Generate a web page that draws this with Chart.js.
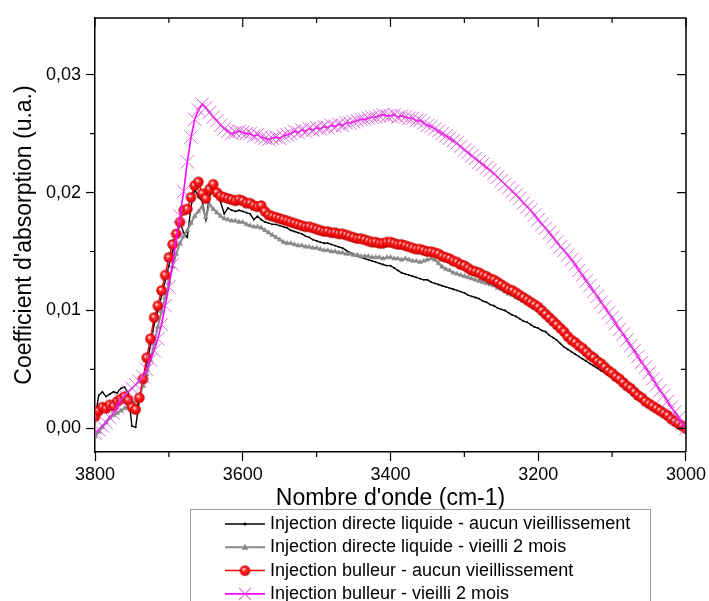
<!DOCTYPE html>
<html>
<head>
<meta charset="utf-8">
<script src="https://cdn.jsdelivr.net/npm/chart.js@4.4.1/dist/chart.umd.min.js"></script>
<style>
    html, body { margin: 0; padding: 0; background: #fff; overflow: hidden; }
    canvas { display: block; }
</style>
</head>
<body>
<canvas id="absorptionChart" width="709" height="601"></canvas>
<script>
// Nombre d'onde (cm-1), 3800 -> 3000
const wavenumbers = [
    3800, 3795, 3790, 3785, 3780, 3775, 3770, 3765, 3760, 3755,
    3750, 3745, 3740, 3735, 3730, 3725, 3720, 3715, 3710, 3705,
    3700, 3695, 3690, 3685, 3680, 3675, 3670, 3665, 3660, 3655,
    3650, 3645, 3640, 3635, 3630, 3625, 3620, 3615, 3610, 3605,
    3600, 3595, 3590, 3585, 3580, 3575, 3570, 3565, 3560, 3555,
    3550, 3545, 3540, 3535, 3530, 3525, 3520, 3515, 3510, 3505,
    3500, 3495, 3490, 3485, 3480, 3475, 3470, 3465, 3460, 3455,
    3450, 3445, 3440, 3435, 3430, 3425, 3420, 3415, 3410, 3405,
    3400, 3395, 3390, 3385, 3380, 3375, 3370, 3365, 3360, 3355,
    3350, 3345, 3340, 3335, 3330, 3325, 3320, 3315, 3310, 3305,
    3300, 3295, 3290, 3285, 3280, 3275, 3270, 3265, 3260, 3255,
    3250, 3245, 3240, 3235, 3230, 3225, 3220, 3215, 3210, 3205,
    3200, 3195, 3190, 3185, 3180, 3175, 3170, 3165, 3160, 3155,
    3150, 3145, 3140, 3135, 3130, 3125, 3120, 3115, 3110, 3105,
    3100, 3095, 3090, 3085, 3080, 3075, 3070, 3065, 3060, 3055,
    3050, 3045, 3040, 3035, 3030, 3025, 3020, 3015, 3010, 3005,
    3000
];

// Injection directe liquide - aucun vieillissement
const directFresh = [
    0.0008, 0.0028, 0.0031, 0.0027, 0.0029, 0.0031, 0.0030, 0.0034, 0.0035, 0.0030,
    0.0002, 0.0001, 0.0024, 0.0040, 0.0055, 0.0070, 0.0088, 0.0100, 0.0112, 0.0125,
    0.0138, 0.0150, 0.0160, 0.0175, 0.0166, 0.0162, 0.0188, 0.0203, 0.0196, 0.0193,
    0.0177, 0.0197, 0.0202, 0.0200, 0.0192, 0.0182, 0.0187, 0.0185, 0.0184, 0.0185,
    0.0184, 0.0183, 0.0182, 0.0177, 0.0180, 0.0177, 0.0175, 0.0174, 0.0173, 0.0173,
    0.0172, 0.0171, 0.0170, 0.0168, 0.0167, 0.0166, 0.0165, 0.0163, 0.0162, 0.0160,
    0.0159, 0.0158, 0.0157, 0.0157, 0.0156, 0.0155, 0.0154, 0.0153, 0.0151, 0.0149,
    0.0148, 0.0146, 0.0145, 0.0144, 0.0143, 0.0142, 0.0141, 0.0140, 0.0139, 0.0138,
    0.0138, 0.0136, 0.0134, 0.0132, 0.0131, 0.0130, 0.0129, 0.0128, 0.0127, 0.0126,
    0.0126, 0.0124, 0.0123, 0.0122, 0.0121, 0.0120, 0.0119, 0.0118, 0.0117, 0.0116,
    0.0115, 0.0113, 0.0112, 0.0111, 0.0110, 0.0108, 0.0107, 0.0105, 0.0104, 0.0102,
    0.0101, 0.0100, 0.0098, 0.0096, 0.0095, 0.0093, 0.0091, 0.0090, 0.0088, 0.0086,
    0.0085, 0.0083, 0.0082, 0.0079, 0.0077, 0.0075, 0.0072, 0.0069, 0.0067, 0.0065,
    0.0063, 0.0061, 0.0059, 0.0057, 0.0055, 0.0053, 0.0051, 0.0049, 0.0047, 0.0045,
    0.0043, 0.0041, 0.0039, 0.0037, 0.0035, 0.0033, 0.0031, 0.0028, 0.0026, 0.0024,
    0.0022, 0.0020, 0.0017, 0.0015, 0.0013, 0.0011, 0.0009, 0.0007, 0.0004, 0.0002,
    0.0000
];

// Injection directe liquide - vieilli 2 mois
const directAged = [
    -0.0007, -0.0003, 0.0001, 0.0005, 0.0009, 0.0011, 0.0013, 0.0015, 0.0017, 0.0019,
    0.0021, 0.0023, 0.0027, 0.0036, 0.0046, 0.0058, 0.0072, 0.0086, 0.0099, 0.0111,
    0.0124, 0.0137, 0.0148, 0.0157, 0.0163, 0.0168, 0.0174, 0.0180, 0.0184, 0.0188,
    0.0179, 0.0190, 0.0186, 0.0183, 0.0180, 0.0178, 0.0177, 0.0176, 0.0176, 0.0175,
    0.0175, 0.0173, 0.0172, 0.0171, 0.0171, 0.0170, 0.0168, 0.0166, 0.0164, 0.0162,
    0.0160, 0.0158, 0.0157, 0.0157, 0.0156, 0.0155, 0.0155, 0.0154, 0.0154, 0.0153,
    0.0153, 0.0152, 0.0151, 0.0151, 0.0150, 0.0150, 0.0149, 0.0149, 0.0148, 0.0148,
    0.0147, 0.0147, 0.0146, 0.0146, 0.0146, 0.0145, 0.0145, 0.0145, 0.0144, 0.0145,
    0.0145, 0.0144, 0.0144, 0.0143, 0.0144, 0.0143, 0.0142, 0.0142, 0.0141, 0.0142,
    0.0143, 0.0144, 0.0143, 0.0140, 0.0137, 0.0135, 0.0134, 0.0132, 0.0131, 0.0130,
    0.0129, 0.0128, 0.0127, 0.0126, 0.0125, 0.0124, 0.0123, 0.0122, 0.0121, 0.0119,
    0.0118, 0.0116, 0.0114, 0.0113, 0.0111, 0.0110, 0.0108, 0.0106, 0.0104, 0.0102,
    0.0100, 0.0098, 0.0095, 0.0092, 0.0089, 0.0086, 0.0083, 0.0080, 0.0076, 0.0073,
    0.0071, 0.0068, 0.0066, 0.0063, 0.0060, 0.0058, 0.0055, 0.0053, 0.0050, 0.0048,
    0.0045, 0.0043, 0.0040, 0.0038, 0.0035, 0.0033, 0.0030, 0.0027, 0.0025, 0.0023,
    0.0020, 0.0018, 0.0016, 0.0014, 0.0012, 0.0010, 0.0008, 0.0006, 0.0004, 0.0002,
    0.0000
];

// Injection bulleur - aucun vieillissement
const bubblerFresh = [
    0.0010, 0.0015, 0.0018, 0.0017, 0.0020, 0.0019, 0.0023, 0.0025, 0.0027, 0.0024,
    0.0018, 0.0016, 0.0026, 0.0042, 0.0060, 0.0076, 0.0094, 0.0104, 0.0117, 0.0130,
    0.0145, 0.0156, 0.0165, 0.0175, 0.0185, 0.0186, 0.0196, 0.0206, 0.0209, 0.0199,
    0.0195, 0.0203, 0.0207, 0.0200, 0.0197, 0.0196, 0.0195, 0.0194, 0.0193, 0.0194,
    0.0193, 0.0191, 0.0191, 0.0189, 0.0188, 0.0189, 0.0184, 0.0181, 0.0180, 0.0179,
    0.0178, 0.0177, 0.0176, 0.0175, 0.0174, 0.0173, 0.0172, 0.0171, 0.0171, 0.0170,
    0.0169, 0.0168, 0.0167, 0.0167, 0.0166, 0.0166, 0.0165, 0.0165, 0.0164, 0.0163,
    0.0162, 0.0161, 0.0161, 0.0160, 0.0159, 0.0158, 0.0158, 0.0157, 0.0157, 0.0158,
    0.0158, 0.0157, 0.0156, 0.0156, 0.0155, 0.0154, 0.0153, 0.0152, 0.0152, 0.0151,
    0.0150, 0.0150, 0.0149, 0.0148, 0.0146, 0.0145, 0.0144, 0.0142, 0.0141, 0.0139,
    0.0138, 0.0136, 0.0134, 0.0133, 0.0132, 0.0130, 0.0129, 0.0127, 0.0126, 0.0124,
    0.0122, 0.0120, 0.0118, 0.0117, 0.0115, 0.0113, 0.0111, 0.0109, 0.0107, 0.0105,
    0.0103, 0.0100, 0.0097, 0.0094, 0.0091, 0.0088, 0.0085, 0.0082, 0.0078, 0.0075,
    0.0073, 0.0070, 0.0068, 0.0065, 0.0062, 0.0060, 0.0057, 0.0055, 0.0052, 0.0049,
    0.0047, 0.0044, 0.0042, 0.0039, 0.0036, 0.0034, 0.0031, 0.0028, 0.0026, 0.0023,
    0.0021, 0.0019, 0.0017, 0.0015, 0.0013, 0.0011, 0.0008, 0.0006, 0.0004, 0.0002,
    0.0000
];

// Injection bulleur - vieilli 2 mois
const bubblerAged = [
    -0.0004, -0.0001, 0.0002, 0.0005, 0.0009, 0.0013, 0.0018, 0.0024, 0.0028, 0.0031,
    0.0034, 0.0037, 0.0040, 0.0044, 0.0050, 0.0058, 0.0066, 0.0076, 0.0088, 0.0104,
    0.0120, 0.0139, 0.0160, 0.0180, 0.0201, 0.0226, 0.0247, 0.0262, 0.0270, 0.0275,
    0.0272, 0.0268, 0.0264, 0.0261, 0.0257, 0.0254, 0.0252, 0.0250, 0.0251, 0.0252,
    0.0251, 0.0250, 0.0250, 0.0248, 0.0249, 0.0247, 0.0246, 0.0245, 0.0246, 0.0247,
    0.0246, 0.0248, 0.0249, 0.0250, 0.0252, 0.0251, 0.0253, 0.0252, 0.0254, 0.0253,
    0.0255, 0.0254, 0.0256, 0.0255, 0.0257, 0.0256, 0.0258, 0.0257, 0.0259, 0.0259,
    0.0260, 0.0261, 0.0262, 0.0262, 0.0263, 0.0264, 0.0264, 0.0265, 0.0266, 0.0265,
    0.0265, 0.0266, 0.0264, 0.0265, 0.0264, 0.0263, 0.0263, 0.0261, 0.0261, 0.0259,
    0.0257, 0.0256, 0.0254, 0.0252, 0.0250, 0.0248, 0.0246, 0.0244, 0.0242, 0.0239,
    0.0236, 0.0234, 0.0231, 0.0229, 0.0226, 0.0224, 0.0221, 0.0219, 0.0216, 0.0213,
    0.0210, 0.0207, 0.0204, 0.0201, 0.0198, 0.0195, 0.0191, 0.0188, 0.0185, 0.0181,
    0.0177, 0.0173, 0.0170, 0.0166, 0.0162, 0.0158, 0.0154, 0.0151, 0.0147, 0.0143,
    0.0139, 0.0134, 0.0130, 0.0125, 0.0121, 0.0116, 0.0112, 0.0107, 0.0103, 0.0098,
    0.0094, 0.0089, 0.0084, 0.0080, 0.0075, 0.0070, 0.0066, 0.0061, 0.0056, 0.0052,
    0.0047, 0.0042, 0.0037, 0.0032, 0.0028, 0.0023, 0.0018, 0.0014, 0.0009, 0.0004,
    0.0000
];

const seriesLabels = [
    'Injection directe liquide - aucun vieillissement',
    'Injection directe liquide - vieilli 2 mois',
    'Injection bulleur - aucun vieillissement',
    'Injection bulleur - vieilli 2 mois'
];

const xLabelTicks = [3800, 3600, 3400, 3200, 3000];
const yLabelTicks = [0, 0.01, 0.02, 0.03];

const FONT = "'Liberation Sans', Arial, sans-serif";
Chart.defaults.font.family = FONT;
Chart.defaults.color = '#000';

const isMajorX = v => xLabelTicks.includes(Math.round(v));
const isMajorY = v => yLabelTicks.some(t => Math.abs(t - v) < 1e-6);

// petite bille rouge façon Origin
function makeBall(r) {
    const c = document.createElement('canvas');
    const s = Math.ceil(r * 2 + 2);
    c.width = s;
    c.height = s;
    const g = c.getContext('2d');
    const m = s / 2;
    const grad = g.createRadialGradient(m - r * 0.25, m - r * 0.3, r * 0.1, m, m, r);
    grad.addColorStop(0, '#ffd8d8');
    grad.addColorStop(0.35, '#ff2b2b');
    grad.addColorStop(0.85, '#e80000');
    grad.addColorStop(1, '#a00000');
    g.fillStyle = grad;
    g.beginPath();
    g.arc(m, m, r, 0, Math.PI * 2);
    g.fill();
    return c;
}
const redBall = makeBall(5.2);

const toPoints = values => wavenumbers.map((x, i) => ({ x, y: values[i] }));

const datasets = [
    {
        label: seriesLabels[0],
        data: toPoints(directFresh),
        borderColor: '#000000',
        borderWidth: 1.4,
        pointStyle: 'circle',
        pointRadius: 0.9,
        pointBackgroundColor: '#000000',
        pointBorderColor: '#000000',
        pointBorderWidth: 0,
        order: 3
    },
    {
        label: seriesLabels[1],
        data: toPoints(directAged),
        borderColor: '#8a8a8a',
        borderWidth: 2,
        pointStyle: 'triangle',
        pointRadius: 2.8,
        pointBackgroundColor: '#8a8a8a',
        pointBorderColor: '#8a8a8a',
        pointBorderWidth: 0.5,
        order: 2
    },
    {
        label: seriesLabels[2],
        data: toPoints(bubblerFresh),
        borderColor: '#ff0000',
        borderWidth: 1.5,
        pointStyle: redBall,
        pointRadius: 5,
        order: 1
    },
    {
        label: seriesLabels[3],
        data: toPoints(bubblerAged),
        borderColor: '#ff00ff',
        borderWidth: 1.6,
        pointStyle: 'crossRot',
        pointRadius: 9.5,
        pointBorderColor: 'rgba(214, 70, 214, 0.8)',
        pointBorderWidth: 1,
        order: 0
    }
];

// cadre, graduations intérieures/mineures et légende encadrée
const frameAndLegend = {
    id: 'frameAndLegend',
    afterDraw(chart) {
        const { ctx, chartArea: area, scales: { x, y } } = chart;
        ctx.save();
        ctx.strokeStyle = '#000';
        ctx.lineWidth = 1.5;
        ctx.beginPath();
        ctx.moveTo(area.left, area.top);
        ctx.lineTo(area.right, area.top);
        ctx.lineTo(area.right, area.bottom);
        ctx.stroke();

        ctx.lineWidth = 1.2;
        ctx.beginPath();
        x.ticks.forEach(t => {
            const px = x.getPixelForValue(t.value);
            const major = isMajorX(t.value);
            ctx.moveTo(px, area.top);
            ctx.lineTo(px, area.top + (major ? 9 : 5));
            if (!major) {
                ctx.moveTo(px, area.bottom);
                ctx.lineTo(px, area.bottom + 5);
            }
        });
        y.ticks.forEach(t => {
            const py = y.getPixelForValue(t.value);
            const major = isMajorY(t.value);
            ctx.moveTo(area.right, py);
            ctx.lineTo(area.right - (major ? 9 : 5), py);
            if (!major) {
                ctx.moveTo(area.left, py);
                ctx.lineTo(area.left - 5, py);
            }
        });
        ctx.stroke();

        // légende
        ctx.fillStyle = '#fff';
        ctx.fillRect(190, 509, 460, 120);
        ctx.strokeStyle = '#9a9a9a';
        ctx.lineWidth = 1;
        ctx.strokeRect(190.5, 509.5, 460, 120);

        ctx.font = '18px ' + FONT;
        ctx.textBaseline = 'middle';
        chart.data.datasets.forEach((ds, i) => {
            const ly = 524 + i * 23.3;
            ctx.strokeStyle = ds.borderColor;
            ctx.lineWidth = ds.borderWidth;
            ctx.beginPath();
            ctx.moveTo(225, ly);
            ctx.lineTo(265, ly);
            ctx.stroke();
            const cx = 245;
            if (i === 0) {
                ctx.fillStyle = '#000';
                ctx.beginPath();
                ctx.arc(cx, ly, 1.6, 0, Math.PI * 2);
                ctx.fill();
            } else if (i === 1) {
                ctx.fillStyle = '#8a8a8a';
                ctx.beginPath();
                ctx.moveTo(cx, ly - 3.5);
                ctx.lineTo(cx + 3.5, ly + 2.5);
                ctx.lineTo(cx - 3.5, ly + 2.5);
                ctx.closePath();
                ctx.fill();
            } else if (i === 2) {
                ctx.drawImage(redBall, cx - redBall.width / 2, ly - redBall.height / 2);
            } else {
                ctx.strokeStyle = ds.pointBorderColor;
                ctx.lineWidth = 1.2;
                ctx.beginPath();
                ctx.moveTo(cx - 6, ly - 6);
                ctx.lineTo(cx + 6, ly + 6);
                ctx.moveTo(cx + 6, ly - 6);
                ctx.lineTo(cx - 6, ly + 6);
                ctx.stroke();
            }
            ctx.fillStyle = '#000';
            ctx.fillText(ds.label, 270, ly);
        });
        ctx.restore();
    }
};

new Chart(document.getElementById('absorptionChart'), {
    type: 'line',
    data: { datasets },
    options: {
        responsive: false,
        animation: false,
        layout: { padding: { top: 18, right: 21, left: 0, bottom: 0 } },
        elements: { line: { tension: 0 } },
        plugins: {
            legend: { display: false },
            tooltip: { enabled: false }
        },
        scales: {
            x: {
                type: 'linear',
                reverse: true,
                min: 3000,
                max: 3800,
                afterFit: s => { s.height = 149; },
                border: { color: '#000', width: 1.5 },
                grid: {
                    display: true,
                    drawOnChartArea: false,
                    tickLength: 9,
                    tickWidth: 1.2,
                    tickColor: c => isMajorX(c.tick.value) ? '#000' : 'rgba(0,0,0,0)'
                },
                ticks: {
                    stepSize: 100,
                    autoSkip: false,
                    maxRotation: 0,
                    padding: 3,
                    font: { size: 18 },
                    color: '#000',
                    callback: v => isMajorX(v) ? String(v) : ''
                },
                title: {
                    display: true,
                    text: "Nombre d'onde (cm-1)",
                    font: { size: 23 },
                    color: '#000',
                    padding: { top: 0, bottom: 89 }
                }
            },
            y: {
                type: 'linear',
                min: -0.002,
                max: 0.0348,
                afterFit: s => { s.width = 95; },
                border: { color: '#000', width: 1.5 },
                grid: {
                    display: true,
                    drawOnChartArea: false,
                    tickLength: 9,
                    tickWidth: 1.2,
                    tickColor: c => isMajorY(c.tick.value) ? '#000' : 'rgba(0,0,0,0)'
                },
                ticks: {
                    stepSize: 0.005,
                    includeBounds: false,
                    autoSkip: false,
                    padding: 5,
                    font: { size: 18 },
                    color: '#000',
                    callback: v => isMajorY(v) ? v.toFixed(2).replace('.', ',') : ''
                },
                title: {
                    display: true,
                    text: "Coefficient d'absorption (u.a.)",
                    font: { size: 23 },
                    color: '#000',
                    padding: { top: 11, bottom: 0 }
                }
            }
        }
    },
    plugins: [frameAndLegend]
});
</script>
</body>
</html>
